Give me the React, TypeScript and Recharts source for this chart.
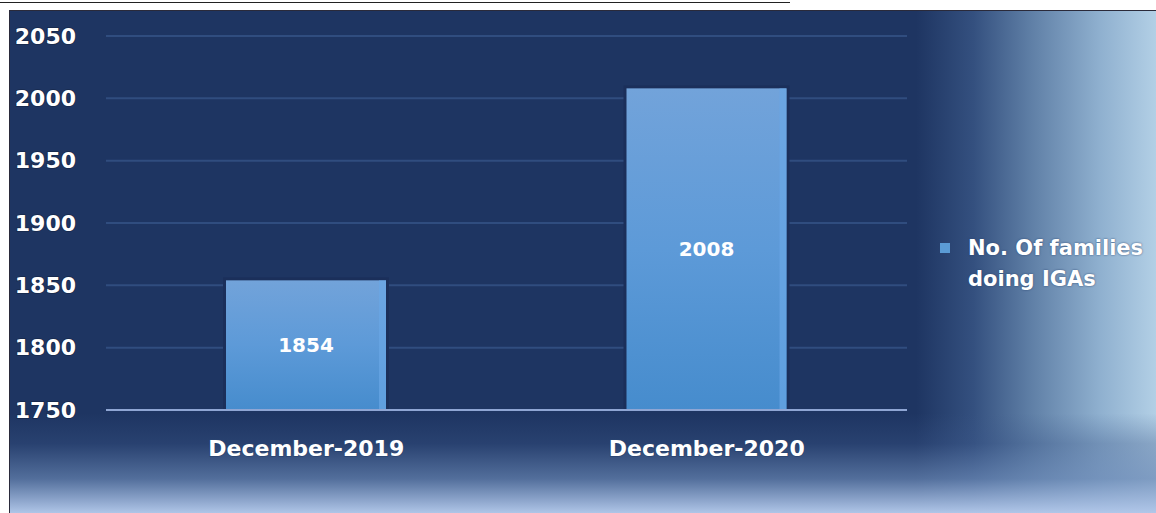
import React from "react";
import { BarChart, Bar, XAxis, YAxis, CartesianGrid, Legend, LabelList } from "recharts";

const categories = ["December-2019", "December-2020"];
const families = [1854, 2008];
const yTicks = [1750, 1800, 1850, 1900, 1950, 2000, 2050];
const seriesName = "No. Of families doing IGAs";

const data = categories.map((c, i) => ({ name: c, value: families[i] }));

const FONT = "'DejaVu Sans', Verdana, sans-serif";

const YTick = (props: any) => {
  const { y, payload } = props;
  return (
    <text x={76} y={y} textAnchor="end" dominantBaseline="central" fill="#ffffff" fontFamily={FONT} fontWeight="bold" fontSize={22}
      style={{ paintOrder: "stroke", stroke: "#16284a", strokeWidth: 1.5 }}>
      {payload.value}
    </text>
  );
};

const XTick = (props: any) => {
  const { x, y, payload } = props;
  return (
    <text x={x} y={y + 30} textAnchor="middle" dominantBaseline="central" fill="#ffffff" fontFamily={FONT} fontWeight="bold" fontSize={22}
      style={{ paintOrder: "stroke", stroke: "#2a4470", strokeWidth: 1.5 }}>
      {payload.value}
    </text>
  );
};

const BarShape = (props: any) => {
  const { x, y, width, height } = props;
  return (
    <g>
      <rect x={x - 3} y={y - 3} width={width + 6} height={height + 3} fill="#1b2f5a" />
      <rect x={x} y={y} width={width} height={height} fill="url(#barGrad)" />
      <rect x={x + width - 7} y={y} width={7} height={height} fill="#6aa6e6" opacity={0.7} />
    </g>
  );
};

const LegendContent = () => (
  <div style={{ display: "flex", alignItems: "flex-start", fontFamily: FONT, fontWeight: "bold", fontSize: 21, color: "#ffffff", lineHeight: "31px", textShadow: "0 0 2px #2a4470", whiteSpace: "nowrap" }}>
    <div style={{ width: 10, height: 10, background: "#5b9bd5", marginTop: 10, marginRight: 18 }} />
    <div>
      <div>No. Of families</div>
      <div>doing IGAs</div>
    </div>
  </div>
);

export default function App() {
  return (
    <div style={{ position: "absolute", left: 0, top: 0, width: 1156, height: 513, background: "#ffffff", overflow: "hidden" }}>
      <div style={{ position: "absolute", left: 0, top: 2, width: 790, height: 1, background: "#222" }} />
      <div
        style={{
          position: "absolute",
          left: 9,
          top: 10,
          width: 1147,
          height: 503,
          borderLeft: "1px solid #2a2a3a",
          borderTop: "1px solid #2a2a3a",
          background:
            "linear-gradient(to bottom, rgba(30,53,98,0) 0%, rgba(30,53,98,0) 80%, rgba(60,88,138,0.35) 86%, rgba(105,135,180,0.7) 93%, rgba(178,200,234,1) 100%), linear-gradient(to right, #1e3562 0%, #1e3562 79%, #34507f 84%, #5f7fa6 89%, #8fb0cf 95%, #b3d0e6 100%)",
        }}
      />
      <div style={{ position: "absolute", left: 0, top: 0 }}>
        <BarChart width={1156} height={513} data={data} margin={{ top: 36, right: 249, bottom: 73, left: 0 }} barCategoryGap={0}>
          <defs>
            <linearGradient id="barGrad" x1="0" y1="0" x2="0" y2="1">
              <stop offset="0%" stopColor="#72a3da" />
              <stop offset="50%" stopColor="#5d9ad8" />
              <stop offset="100%" stopColor="#468ccd" />
            </linearGradient>
          </defs>
          <CartesianGrid horizontal={true} vertical={false} stroke="#304d7f" strokeWidth={2} />
          <YAxis
            domain={[1750, 2050]}
            ticks={yTicks}
            width={106}
            axisLine={false}
            tickLine={false}
            tick={<YTick />}
            interval={0}
          />
          <XAxis
            dataKey="name"
            height={30}
            axisLine={{ stroke: "#8fa6d4", strokeWidth: 2 }}
            tickLine={false}
            tick={<XTick />}
            interval={0}
          />
          <Legend
            layout="horizontal"
            align="center"
            verticalAlign="middle"
            wrapperStyle={{ left: 940, top: 233, width: 240 }}
            content={<LegendContent />}
          />
          <Bar dataKey="value" name={seriesName} barSize={160} isAnimationActive={false} shape={<BarShape />}>
            <LabelList
              dataKey="value"
              position="center"
              fill="#ffffff"
              fontFamily={FONT}
              fontWeight="bold"
              fontSize={20}
            />
          </Bar>
        </BarChart>
      </div>
    </div>
  );
}
